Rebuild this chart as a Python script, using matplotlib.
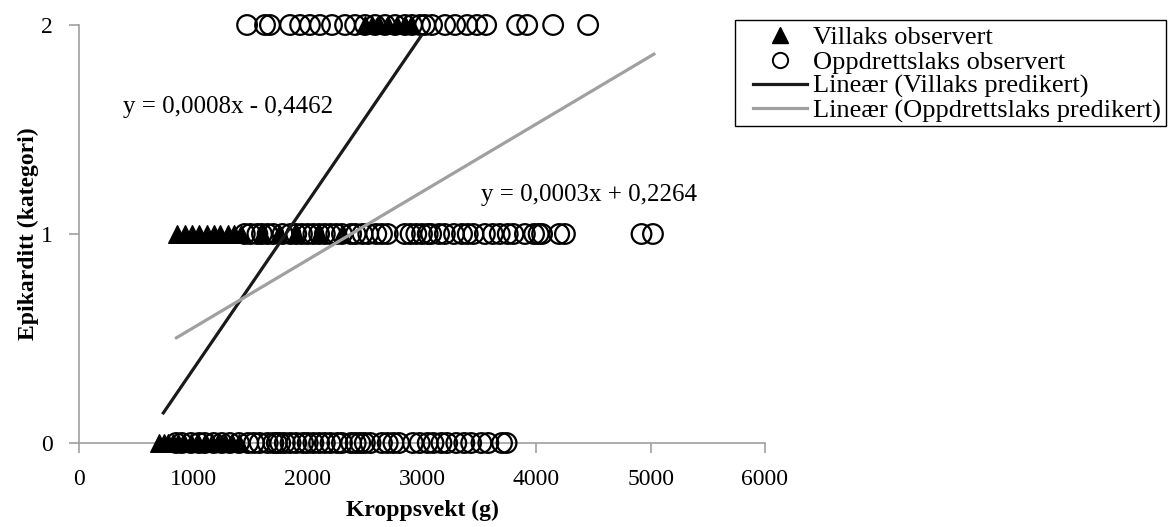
import matplotlib.pyplot as plt
from matplotlib.lines import Line2D
from matplotlib.patches import Rectangle

plt.rcParams['font.family'] = ['Liberation Serif', 'DejaVu Serif']

# Villaks (wild salmon): body weight (g) per epicarditis category
villaks_x0 = [700, 740, 780, 820, 870, 920, 980, 1040, 1100, 1160, 1220, 1280, 1340, 1400]
villaks_x1 = [860, 930, 990, 1050, 1120, 1180, 1230, 1300, 1360, 1420,
              1600, 1750, 1900, 2100, 2300]
villaks_x2 = [2500, 2560, 2620, 2700, 2780, 2850, 2900]

# Oppdrettslaks (farmed salmon)
oppdrett_x0 = [850, 900, 980, 1050, 1100, 1180, 1250, 1320, 1400, 1480, 1530, 1580,
               1650, 1700, 1730, 1760, 1800, 1850, 1900, 1960, 2000, 2050, 2100,
               2150, 2200, 2260, 2300, 2380, 2420, 2460, 2500, 2550, 2650, 2700,
               2750, 2800, 2920, 2980, 3050, 3100, 3170, 3220, 3300, 3370, 3430,
               3520, 3580, 3700, 3740]
oppdrett_x1 = [1450, 1500, 1560, 1600, 1650, 1700, 1780, 1850, 1900, 1950, 2000,
               2050, 2100, 2150, 2200, 2250, 2300, 2380, 2420, 2480, 2530, 2600,
               2650, 2700, 2850, 2900, 2950, 3000, 3050, 3080, 3150, 3200, 3280,
               3350, 3400, 3450, 3550, 3620, 3680, 3750, 3800, 3900, 3980, 4020,
               4050, 4200, 4250, 4920, 5020]
oppdrett_x2 = [1470, 1627, 1670, 1846, 1934, 2020, 2108, 2213, 2327, 2415, 2502,
               2590, 2677, 2765, 2852, 2913, 2983, 3027, 3088, 3202, 3290, 3395,
               3482, 3561, 3832, 3920, 4147, 4453]

# trend lines (slope, intercept) and x range
villaks_fit = (0.0008, -0.4462)
villaks_range = (730, 3000)
oppdrett_fit = (0.000325, 0.2264)
oppdrett_range = (840, 5040)

W, H = 1169, 527
fig = plt.figure(figsize=(W / 100, H / 100), dpi=100)
ax = fig.add_axes([79 / W, 1 - 443 / H, 686 / W, 418 / H])

ms_circle = 200
ms_tri = 160
for x, y in [(oppdrett_x0, 0), (oppdrett_x1, 1), (oppdrett_x2, 2)]:
    ax.scatter(x, [y] * len(x), s=ms_circle, marker='o', facecolors='none',
               edgecolors='black', linewidths=1.6, clip_on=False, zorder=3)
for x, y in [(villaks_x0, 0), (villaks_x1, 1), (villaks_x2, 2)]:
    ax.scatter(x, [y] * len(x), s=ms_tri, marker='^', color='black',
               clip_on=False, zorder=4)

for (a, b), (x0, x1), col in [(villaks_fit, villaks_range, '#1a1a1a'),
                              (oppdrett_fit, oppdrett_range, '#a0a0a0')]:
    ax.plot([x0, x1], [a * x0 + b, a * x1 + b], color=col, lw=2.3, zorder=5,
            solid_capstyle='butt')

ax.text(1304, 1.608, 'y = 0,0008x - 0,4462', ha='center', va='center', fontsize=18)
ax.text(4462, 1.187, 'y = 0,0003x + 0,2264', ha='center', va='center', fontsize=18)

ax.set_xlim(0, 6000)
ax.set_ylim(0, 2)
ax.set_xticks(range(0, 6001, 1000))
ax.set_yticks([0, 1, 2])
for side in ['top', 'right']:
    ax.spines[side].set_visible(False)
for side in ['left', 'bottom']:
    ax.spines[side].set_color('#a0a0a0')
    ax.spines[side].set_linewidth(1.2)
ax.tick_params(direction='out', length=7, width=1.2, color='#a0a0a0',
               labelsize=17)
ax.tick_params(axis='x', pad=12)
ax.tick_params(axis='y', pad=12)
ax.set_xlabel('Kroppsvekt (g)', fontsize=17, fontweight='bold')
ax.set_ylabel('Epikarditt (kategori)', fontsize=17, fontweight='bold')
ax.xaxis.set_label_coords(0.5, -(510 - 443) / 418, transform=ax.transAxes)
ax.yaxis.set_label_coords(-(79 - 28) / 686, 0.5, transform=ax.transAxes)
ax.xaxis.label.set_va('center')
ax.yaxis.label.set_va('center')

handles = [
    Line2D([], [], marker='^', color='black', ls='none', markersize=11),
    Line2D([], [], marker='o', markerfacecolor='none', markeredgecolor='black',
           markeredgewidth=1.4, ls='none', markersize=11),
    Line2D([], [], color='#1a1a1a', lw=2.3),
    Line2D([], [], color='#a0a0a0', lw=2.3),
]
labels = ['Villaks observert', 'Oppdrettslaks observert',
          'Lineær (Villaks predikert)', 'Lineær (Oppdrettslaks predikert)']
leg = fig.legend(handles, labels, loc='upper left',
                 bbox_to_anchor=(753 / W, 1 - 26 / H), fontsize=19,
                 frameon=False, handlelength=2.05, handletextpad=0.23,
                 borderpad=0, borderaxespad=0, labelspacing=0.03)

# legend box drawn around the entries
fig.canvas.draw()
bb = leg.get_window_extent()
x_left, x_right, y_top = 735, 1166, H - 20
y_bottom = bb.y0 - 3
fig.patches.append(Rectangle((x_left / W, y_bottom / H),
                             (x_right - x_left) / W, (y_top - y_bottom) / H,
                             transform=fig.transFigure, fill=False,
                             edgecolor='black', linewidth=1.0))

fig.savefig('out.png', dpi=100)
